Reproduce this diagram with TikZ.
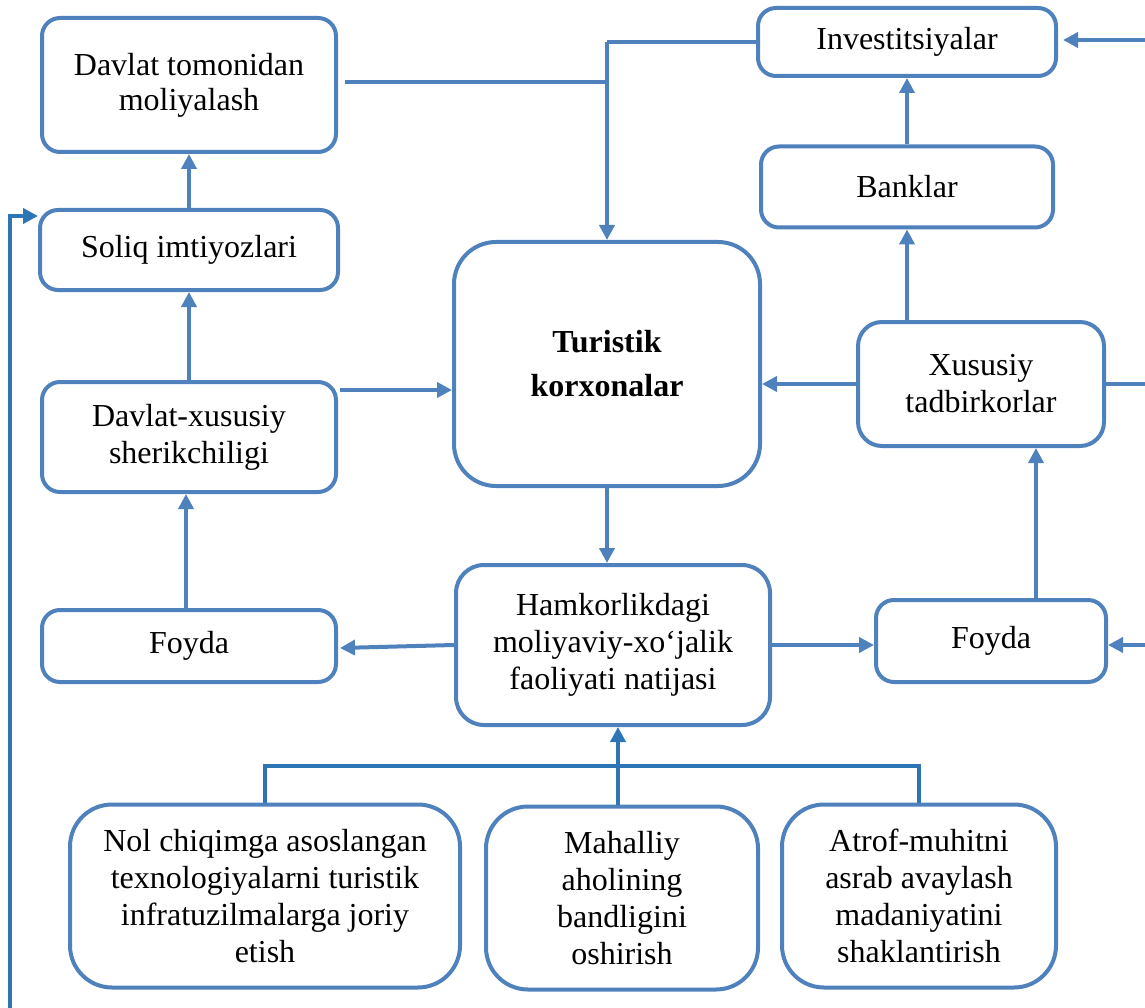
\documentclass[tikz,border=0pt]{standalone}
\usepackage{fontspec}
\setmainfont{Liberation Serif}
\usetikzlibrary{arrows.meta,calc}
\definecolor{boxblue}{HTML}{4F81BD}
\definecolor{busblue}{HTML}{2E75B6}
\begin{document}
\begin{tikzpicture}[x=1pt,y=-1pt,
  box/.style={draw=boxblue,line width=4pt,rounded corners=18pt,fill=white,
    align=center,inner sep=0pt,font=\fontsize{32}{37}\selectfont},
  bigbox/.style={box,rounded corners=42pt},
  arr/.style={draw=boxblue,line width=4pt,-{Triangle[length=15pt,width=15pt]}},
  ln/.style={draw=boxblue,line width=4pt},
  barr/.style={draw=busblue,line width=4pt,-{Triangle[length=15pt,width=15pt]}},
  bln/.style={draw=busblue,line width=4pt}]
\useasboundingbox (0,0) rectangle (1145,1008);
% nodes
\node[box,minimum width=294pt,minimum height=134pt,font=\fontsize{32}{35}\selectfont] (dtm) at (189,85) {Davlat tomonidan\\moliyalash};
\node[box,minimum width=298pt,minimum height=80pt] (soliq) at (189,250) {Soliq imtiyozlari};
\node[box,minimum width=294pt,minimum height=110pt] (dxs) at (189,437) {Davlat-xususiy\\sherikchiligi};
\node[box,minimum width=294pt,minimum height=72pt] (foydaL) at (189,646) {Foyda};
\node[bigbox,minimum width=306pt,minimum height=244pt,font=\fontsize{32}{44}\selectfont\bfseries] (tur) at (607,364) {Turistik\\korxonalar};
\node[box,minimum width=314pt,minimum height=160pt,rounded corners=28pt] (ham) at (613,645) {Hamkorlikdagi\\moliyaviy-xo‘jalik\\faoliyati natijasi};
\node[box,minimum width=298pt,minimum height=68pt] (inv) at (907,42) {Investitsiyalar};
\node[box,minimum width=292pt,minimum height=81pt] (bank) at (907,187) {Banklar};
\node[box,minimum width=246pt,minimum height=124pt,rounded corners=24pt] (xus) at (981,384) {Xususiy\\tadbirkorlar};
\node[box,minimum width=230pt,minimum height=82pt] (foydaR) at (991,641) {Foyda};
\node[bigbox,minimum width=390pt,minimum height=183pt] (nol) at (265,896) {Nol chiqimga asoslangan\\texnologiyalarni turistik\\infratuzilmalarga joriy\\etish};
\node[bigbox,minimum width=272pt,minimum height=183pt] (mah) at (622,898) {Mahalliy\\aholining\\bandligini\\oshirish};
\node[bigbox,minimum width=274pt,minimum height=183pt] (atr) at (919,896) {Atrof-muhitni\\asrab avaylash\\madaniyatini\\shaklantirish};
% edge coordinates
\coordinate (rtop) at (1145,40);
\coordinate (rmid) at (1145,388);
\coordinate (rlow) at (1145,645);
\coordinate (lbot) at (10,1008);
\coordinate (busy) at (0,766);
% helper coordinates
\coordinate (jn) at (inv.west -| tur.north);
\coordinate (dtmout) at ($(dtm.east)+(7,-3)$);
\coordinate (dxsout) at ($(dxs.east)+(2,-47)$);
\coordinate (invin) at ($(inv.east)+(5,-2)$);
\coordinate (fr) at ($(foydaR.north)+(45,0)$);
\coordinate (mahout) at ($(mah.north)+(-4,0)$);
\coordinate (soliqin) at ($(soliq.north west)+(0,8)$);
\coordinate (flin) at ($(foydaL.east)+(2,2)$);
\coordinate (frin) at ($(foydaR.west)+(0,4)$);
\coordinate (flout) at ($(foydaL.north)+(-3,0)$);
% top connectors
\draw[ln] (inv.west) -- (jn);
\draw[arr] (jn) -- (tur.north);
\draw[ln] (dtmout) -- (dtmout -| tur.north);
\draw[arr] (rtop) -- (invin);
% left column
\draw[arr] (soliq.north) -- (dtm.south);
\draw[arr] (dxs.north) -- (soliq.south);
\draw[arr] (flout) -- (flout |- dxs.south);
\draw[arr] (dxsout) -- (dxsout -| tur.west);
% right column
\draw[arr] (xus.west) -- (xus.west -| tur.east);
\draw[ln] (xus.east) -- (xus.east -| rmid);
\draw[arr] (bank.south |- xus.north) -- (bank.south);
\draw[arr] (bank.north) -- (inv.south);
\draw[arr] (fr) -- (fr |- xus.south);
\draw[arr] (rlow) -- (rlow -| foydaR.east);
% middle
\draw[arr] (tur.south) -- (tur.south |- ham.north);
\draw[arr] (ham.west) -- (flin);
\draw[arr] (ham.east) -- (frin);
% bottom bus
\draw[bln] (nol.north) -- (nol.north |- busy) -- (atr.north |- busy) -- (atr.north);
\draw[barr] (mahout) -- (mahout |- ham.south);
% left loop
\draw[barr] (lbot) |- (soliqin);
\end{tikzpicture}
\end{document}
